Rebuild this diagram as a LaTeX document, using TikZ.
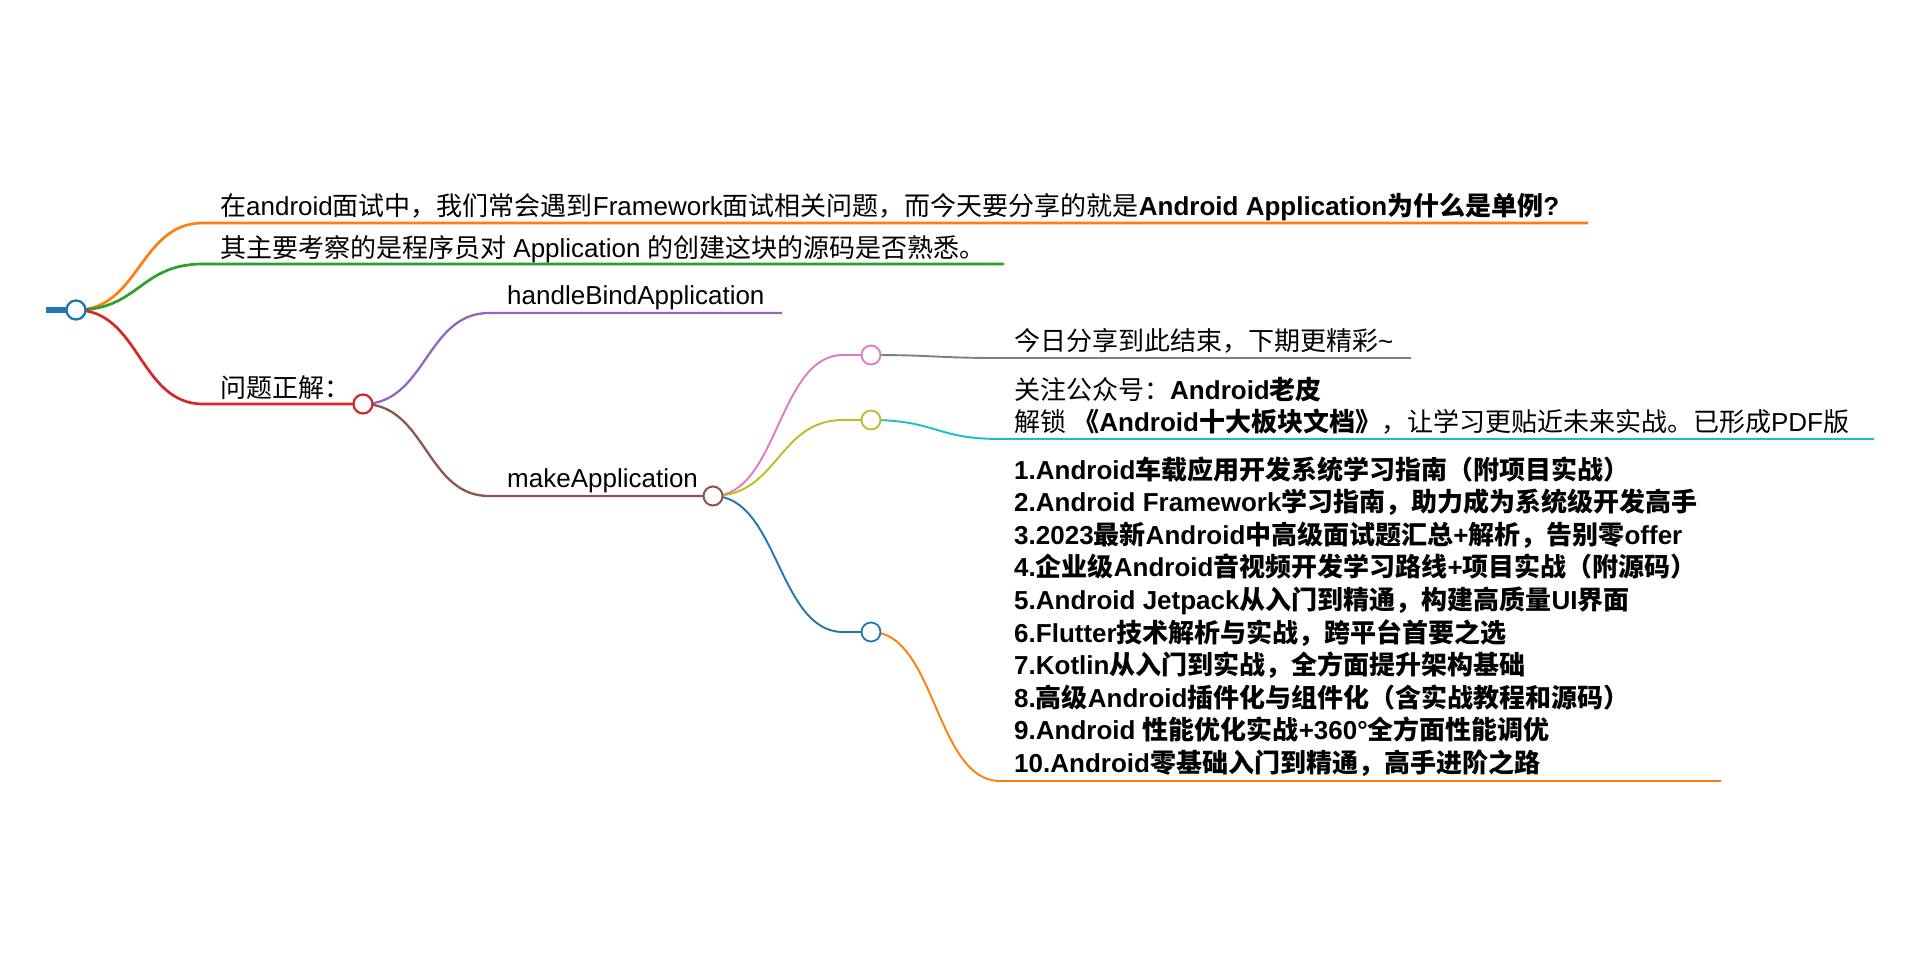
\documentclass[tikz,border=0pt]{standalone}
\usepackage{fontspec}
\setmainfont{Liberation Sans}
\newfontfamily\cjkfont{Noto Sans CJK SC}
\usetikzlibrary{calc}
\XeTeXinterchartokenstate=1
\newXeTeXintercharclass\CJKclass
\newcount\cjkc
\def\setcjkrange#1#2{\cjkc=#1\relax\loop\XeTeXcharclass\cjkc=\CJKclass\advance\cjkc by 1\relax\ifnum\cjkc<#2\repeat}
\setcjkrange{"3000}{"3040}
\setcjkrange{"4E00}{"A000}
\setcjkrange{"FF00}{"FFF0}
\XeTeXinterchartoks 0 \CJKclass={\begingroup\cjkfont}
\XeTeXinterchartoks 4095 \CJKclass={\begingroup\cjkfont}
\XeTeXinterchartoks \CJKclass 0={\endgroup}
\XeTeXinterchartoks \CJKclass 4095={\endgroup}
\definecolor{mmblue}{HTML}{1F77B4}
\definecolor{mmorange}{HTML}{FF7F0E}
\definecolor{mmgreen}{HTML}{2CA02C}
\definecolor{mmred}{HTML}{D62728}
\definecolor{mmpurple}{HTML}{9467BD}
\definecolor{mmbrown}{HTML}{8C564B}
\definecolor{mmpink}{HTML}{E377C2}
\definecolor{mmgray}{HTML}{7F7F7F}
\definecolor{mmolive}{HTML}{BCBD22}
\definecolor{mmcyan}{HTML}{17BECF}
\newcommand\mmlink[4]{%
  \draw[#1] let \p1=(#2), \p2=(#3) in (\p1) .. controls ({(\x1+\x2)/2},\y1) and ({(\x1+\x2)/2},\y2) .. (\p2) -- (#4);}
\begin{document}
\begin{tikzpicture}[x=1pt,y=-1pt,
  txt/.style={anchor=base west, inner sep=0pt, font=\fontsize{26}{32}\selectfont, text=black},
  circ/.style={circle, fill=white, minimum size=19pt, inner sep=0pt, line width=1.8pt, draw=#1},
  lone/.style={line width=2.7pt},
  ltwo/.style={line width=2.3pt},
  lthree/.style={line width=1.9pt},
  lfour/.style={line width=1.9pt}]
\useasboundingbox (0,0) rectangle (1920,972);
% anchor points
\coordinate (p0) at (76,310);
\coordinate (p1) at (363,404);
\coordinate (p2) at (713,496);
\coordinate (p3) at (871,355);
\coordinate (p4) at (871,420);
\coordinate (p5) at (871,632);
\coordinate (st) at (46,310);
\coordinate (a1) at (203,223); \coordinate (b1) at (1588,223);
\coordinate (a2) at (203,264); \coordinate (b2) at (1004,264);
\coordinate (a3) at (203,404);
\coordinate (a4) at (489,313); \coordinate (b4) at (782,313);
\coordinate (a5) at (489,496);
\coordinate (a6) at (843,355);
\coordinate (a7) at (843,420);
\coordinate (a8) at (843,632);
\coordinate (a9) at (1000,358); \coordinate (b9) at (1411,358);
\coordinate (a10) at (1000,439); \coordinate (b10) at (1874,439);
\coordinate (a11) at (1000,781); \coordinate (b11) at (1721,781);
% root stub
\draw[line width=6pt, mmblue] (st) -- (p0);
% links
\mmlink{lone,mmorange}{p0}{a1}{b1}
\mmlink{lone,mmgreen}{p0}{a2}{b2}
\mmlink{lone,mmred}{p0}{a3}{p1}
\mmlink{ltwo,mmpurple}{p1}{a4}{b4}
\mmlink{ltwo,mmbrown}{p1}{a5}{p2}
\mmlink{lthree,mmpink}{p2}{a6}{p3}
\mmlink{lthree,mmolive}{p2}{a7}{p4}
\mmlink{lthree,mmblue}{p2}{a8}{p5}
\mmlink{lfour,mmgray}{p3}{a9}{b9}
\mmlink{lfour,mmcyan}{p4}{a10}{b10}
\mmlink{lfour,mmorange}{p5}{a11}{b11}
% circles
\node[circ=mmblue, line width=2.3pt] (n0) at (p0) {};
\node[circ=mmred, line width=2.2pt] (n1) at (p1) {};
\node[circ=mmbrown, line width=2pt] (n2) at (p2) {};
\node[circ=mmpink] (n3) at (p3) {};
\node[circ=mmolive] (n4) at (p4) {};
\node[circ=mmblue] (n5) at (p5) {};
% texts
\node[txt] (t1) at (220,215) {在android面试中，我们常会遇到Framework面试相关问题，而今天要分享的就是\textbf{Android Application为什么是单例?}};
\node[txt] (t2) at (220,257) {其主要考察的是程序员对 Application 的创建这块的源码是否熟悉。};
\node[txt] (t3) at (220,397) {问题正解：};
\node[txt] (t4) at (507,304) {handleBindApplication};
\node[txt] (t5) at (507,487) {makeApplication};
\node[txt] (t6) at (1014,350) {今日分享到此结束，下期更精彩\textasciitilde};
\node[txt] (t7) at (1014,399) {关注公众号：\textbf{Android老皮}};
\node[txt] (t8) at (1014,431) {解锁 \textbf{《Android十大板块文档》}，让学习更贴近未来实战。已形成PDF版};
\node[txt] (r1) at (1014,479.0) {\textbf{1.Android车载应用开发系统学习指南（附项目实战）}};
\node[txt] (r2) at (1014,511.6) {\textbf{2.Android Framework学习指南，助力成为系统级开发高手}};
\node[txt] (r3) at (1014,544.2) {\textbf{3.2023最新Android中高级面试题汇总+解析，告别零offer}};
\node[txt] (r4) at (1014,576.8) {\textbf{4.企业级Android音视频开发学习路线+项目实战（附源码）}};
\node[txt] (r5) at (1014,609.4) {\textbf{5.Android Jetpack从入门到精通，构建高质量UI界面}};
\node[txt] (r6) at (1014,642.0) {\textbf{6.Flutter技术解析与实战，跨平台首要之选}};
\node[txt] (r7) at (1014,674.6) {\textbf{7.Kotlin从入门到实战，全方面提升架构基础}};
\node[txt] (r8) at (1014,707.2) {\textbf{8.高级Android插件化与组件化（含实战教程和源码）}};
\node[txt] (r9) at (1014,739.8) {\textbf{9.Android 性能优化实战+360°全方面性能调优}};
\node[txt] (r10) at (1014,772.4) {\textbf{10.Android零基础入门到精通，高手进阶之路}};
\end{tikzpicture}
\end{document}
